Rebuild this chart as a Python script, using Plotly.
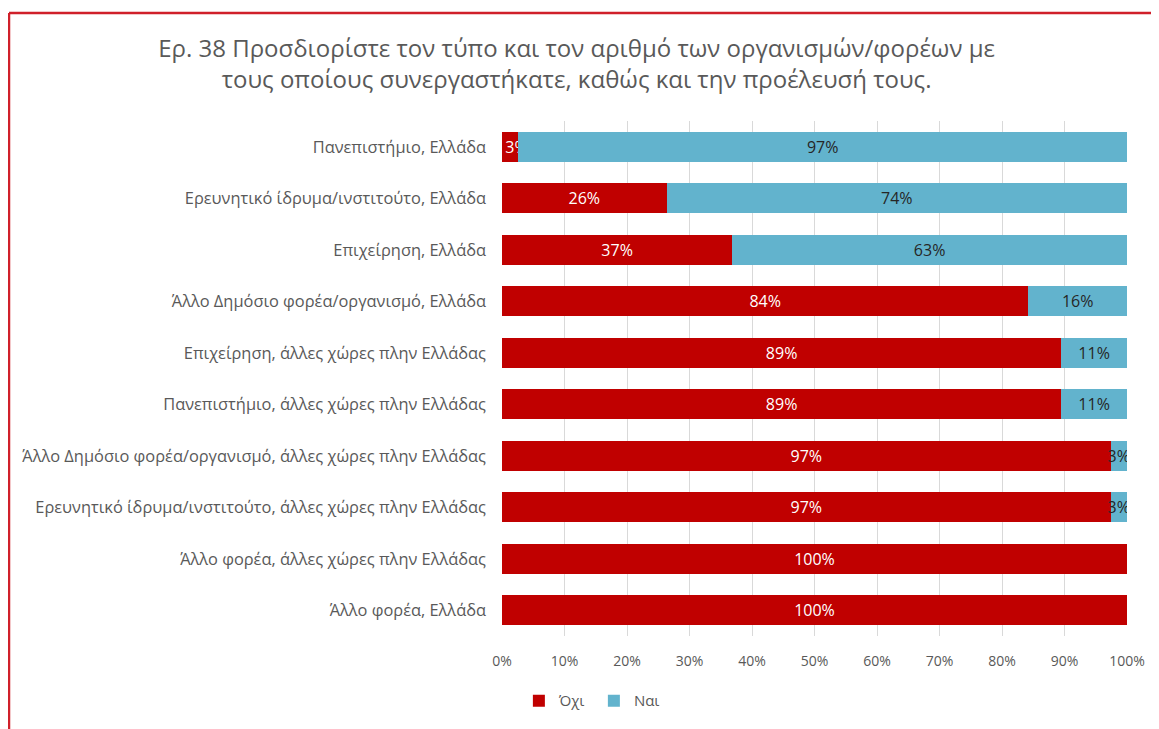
import plotly.graph_objects as go

categories = [
    "Πανεπιστήμιο, Ελλάδα",
    "Ερευνητικό ίδρυμα/ινστιτούτο, Ελλάδα",
    "Επιχείρηση, Ελλάδα",
    "Άλλο Δημόσιο φορέα/οργανισμό, Ελλάδα",
    "Επιχείρηση, άλλες χώρες πλην Ελλάδας",
    "Πανεπιστήμιο, άλλες χώρες πλην Ελλάδας",
    "Άλλο Δημόσιο φορέα/οργανισμό, άλλες χώρες πλην Ελλάδας",
    "Ερευνητικό ίδρυμα/ινστιτούτο, άλλες χώρες πλην Ελλάδας",
    "Άλλο φορέα, άλλες χώρες πλην Ελλάδας",
    "Άλλο φορέα, Ελλάδα",
]
ochi = [2.63, 26.32, 36.84, 84.21, 89.47, 89.47, 97.37, 97.37, 100.0, 100.0]
nai = [97.37, 73.68, 63.16, 15.79, 10.53, 10.53, 2.63, 2.63, 0.0, 0.0]
tick_vals = [0, 10, 20, 30, 40, 50, 60, 70, 80, 90, 100]
tick_text = [f"{v}%" for v in tick_vals]

RED = "#C00000"
BLUE = "#62B3CD"
GREY = "#595959"
FONT = "Open Sans"

def labels(vals, pad_small=False):
    out = []
    for v in vals:
        if v <= 0:
            out.append("")
        elif pad_small and v < 5:
            # nudge tiny label to the right so it stays readable, as in the original
            out.append("\u00a0\u00a0\u00a0" + f"{round(v)}%")
        else:
            out.append(f"{round(v)}%")
    return out

fig = go.Figure()
fig.add_trace(go.Bar(
    y=categories, x=ochi, name="Όχι", orientation="h",
    marker=dict(color=RED, line=dict(width=0)),
    text=labels(ochi, pad_small=True), textposition="inside", insidetextanchor="middle",
    constraintext="none", textangle=0,
    textfont=dict(color="white", size=16, family=FONT),
    width=0.58, hoverinfo="skip",
))
fig.add_trace(go.Bar(
    y=categories, x=nai, name="Ναι", orientation="h",
    marker=dict(color=BLUE, line=dict(width=0)),
    text=labels(nai), textposition="inside", insidetextanchor="middle",
    constraintext="none", textangle=0,
    textfont=dict(color="#262626", size=16, family=FONT),
    width=0.58, hoverinfo="skip",
))

fig.update_layout(
    barmode="stack",
    width=1151, height=721,
    margin=dict(l=494, r=32, t=113, b=90),
    paper_bgcolor="white", plot_bgcolor="white",
    font=dict(family=FONT, color=GREY, size=15),
    title=dict(
        text="Ερ. 38 Προσδιορίστε τον τύπο και τον αριθμό των οργανισμών/φορέων με<br>τους οποίους συνεργαστήκατε, καθώς και την προέλευσή τους.",
        x=0.494, xanchor="center", y=0.932, yanchor="top",
        font=dict(size=24, color=GREY, family=FONT),
    ),
    xaxis=dict(
        range=[0, 100], tickvals=tick_vals, ticktext=tick_text,
        showgrid=True, gridcolor="#D9D9D9", gridwidth=1,
        zeroline=False, showline=False, ticks="",
        tickfont=dict(size=14, color=GREY), ticklabelstandoff=15,
        fixedrange=True,
    ),
    yaxis=dict(
        autorange="reversed", showgrid=False, showline=False, ticks="",
        tickfont=dict(size=16.4, color=GREY), ticklabelstandoff=15,
        fixedrange=True,
    ),
    legend=dict(
        orientation="h", x=0.147, xanchor="center", y=-0.126, yanchor="middle",
        font=dict(size=15, color=GREY), itemwidth=30,
        entrywidth=30, traceorder="normal",
    ),
    showlegend=True,
    shapes=[
        dict(type="line", xref="paper", yref="paper", x0=-0.7888, x1=1.06,
             y0=1.2095, y1=1.2095, line=dict(color="#D0202A", width=2.5)),
        dict(type="line", xref="paper", yref="paper", x0=-0.7888, x1=-0.7888,
             y0=-0.2, y1=1.2095, line=dict(color="#D0202A", width=2.5)),
    ],
)

fig.write_html("out.html")
